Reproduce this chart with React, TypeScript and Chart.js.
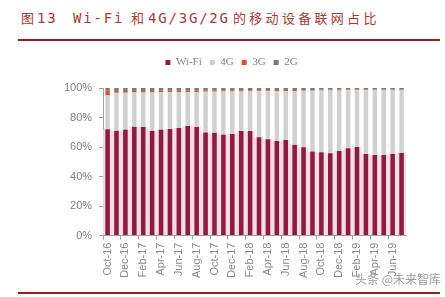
import React, { useEffect, useRef } from "react";
import { Chart, registerables } from "chart.js";

Chart.register(...registerables);

const months = [
  "Oct-16", "Nov-16", "Dec-16", "Jan-17", "Feb-17", "Mar-17", "Apr-17", "May-17", "Jun-17", "Jul-17",
  "Aug-17", "Sep-17", "Oct-17", "Nov-17", "Dec-17", "Jan-18", "Feb-18", "Mar-18", "Apr-18", "May-18",
  "Jun-18", "Jul-18", "Aug-18", "Sep-18", "Oct-18", "Nov-18", "Dec-18", "Jan-19", "Feb-19", "Mar-19",
  "Apr-19", "May-19", "Jun-19", "Jul-19",
];

const wifi = [
  72.0, 71.1, 71.8, 73.8, 73.6, 71.1, 71.8, 72.2, 72.9, 74.3,
  73.5, 69.9, 69.7, 68.4, 68.8, 70.9, 70.9, 66.6, 65.2, 64.1,
  64.8, 61.6, 59.9, 57.0, 56.5, 55.7, 57.3, 59.2, 60.0, 55.3,
  54.6, 54.6, 55.4, 55.9,
];
const g4 = [
  23.0, 25.7, 25.0, 23.1, 23.3, 25.9, 25.3, 24.9, 24.4, 23.0,
  23.8, 27.6, 27.8, 29.2, 28.8, 26.8, 26.9, 31.2, 32.6, 33.9,
  33.2, 36.4, 38.2, 41.2, 41.8, 42.6, 41.0, 39.2, 38.4, 43.2,
  44.0, 44.0, 43.2, 42.7,
];
const g3 = [
  3.5, 1.2, 1.2, 1.1, 1.1, 1.0, 1.0, 1.0, 0.9, 0.9,
  0.9, 0.8, 0.8, 0.8, 0.8, 0.7, 0.7, 0.7, 0.7, 0.6,
  0.6, 0.6, 0.6, 0.5, 0.5, 0.5, 0.5, 0.5, 0.5, 0.4,
  0.4, 0.4, 0.4, 0.4,
];
const g2 = [
  1.5, 2.0, 2.0, 2.0, 2.0, 2.0, 1.9, 1.9, 1.8, 1.8,
  1.8, 1.7, 1.7, 1.6, 1.6, 1.6, 1.5, 1.5, 1.5, 1.4,
  1.4, 1.4, 1.3, 1.3, 1.2, 1.2, 1.2, 1.1, 1.1, 1.1,
  1.0, 1.0, 1.0, 1.0,
];
const yTicks = [0, 10, 20, 30, 40, 50, 60, 70, 80, 90, 100];

// title pieces: [text, left x, kind]
const titleParts: [string, number, "cjk" | "lat"][] = [
  ["图", 21, "cjk"],
  ["13", 37, "lat"],
  ["Wi-Fi", 73, "lat"],
  ["和", 131, "cjk"],
  ["4G/3G/2G", 148, "lat"],
  ["的移动设备联网占比", 233, "cjk"],
];

const legendSpacer = {
  id: "legendSpacer",
  beforeInit(chart: any) {
    const legend = chart.legend;
    if (!legend) return;
    const origFit = legend.fit;
    legend.fit = function () {
      origFit.call(this);
      this.height += 10;
    };
  },
};

export default function App() {
  const ref = useRef<HTMLCanvasElement | null>(null);

  useEffect(() => {
    if (!ref.current) return;
    const chart = new Chart(ref.current, {
      type: "bar",
      plugins: [legendSpacer],
      data: {
        labels: months,
        datasets: [
          {
            label: "Wi-Fi",
            data: wifi,
            backgroundColor: "#8a1d42",
            borderColor: "#fadbe5",
            borderWidth: { left: 2.5, right: 2.5, top: 0, bottom: 0 },
            borderSkipped: false,
            barPercentage: 1,
            categoryPercentage: 1,
          },
          { label: "4G", data: g4, backgroundColor: "#d0d0d0", barPercentage: 0.5, categoryPercentage: 1 },
          { label: "3G", data: g3, backgroundColor: "#d0582e", barPercentage: 0.5, categoryPercentage: 1 },
          { label: "2G", data: g2, backgroundColor: "#7a7a7a", barPercentage: 0.5, categoryPercentage: 1 },
        ],
      },
      options: {
        responsive: false,
        animation: false,
        layout: { padding: { left: 57, right: 39, top: 4, bottom: 9 } },
        plugins: {
          tooltip: { enabled: false },
          legend: {
            position: "top",
            align: "center",
            labels: {
              boxWidth: 5,
              boxHeight: 5,
              padding: 8,
              color: "#808080",
              font: { family: "'Liberation Serif', serif", size: 11 },
              generateLabels: (c: any) =>
                c.data.datasets.map((ds: any, i: number) => ({
                  text: ds.label,
                  fillStyle: ds.backgroundColor,
                  strokeStyle: ds.backgroundColor,
                  lineWidth: 0,
                  hidden: false,
                  datasetIndex: i,
                  fontColor: "#808080",
                })),
            },
          },
        },
        scales: {
          x: {
            stacked: true,
            grid: {
              display: true,
              drawOnChartArea: false,
              offset: true,
              tickLength: 4,
              color: (ctx: any) => (ctx.index % 2 === 0 ? "#a0a0a0" : "rgba(0,0,0,0)"),
            },
            border: { display: true, color: "#a0a0a0" },
            ticks: {
              autoSkip: false,
              minRotation: 90,
              maxRotation: 90,
              padding: 3,
              color: "#8a8a8a",
              font: { family: "'Liberation Sans', Arial, sans-serif", size: 11 },
              callback: (_v: any, i: number) => (i % 2 === 0 ? months[i] : ""),
            },
          },
          y: {
            stacked: true,
            min: 0,
            max: 100,
            afterBuildTicks: (axis: any) => {
              axis.ticks = yTicks.map((v) => ({ value: v }));
            },
            grid: { display: true, drawOnChartArea: false, tickLength: 4, color: "#a0a0a0" },
            border: { display: true, color: "#a0a0a0" },
            ticks: {
              padding: 7,
              color: "#7f7f7f",
              font: { family: "'Liberation Sans', Arial, sans-serif", size: 11 },
              callback: (v: any) => v + "%",
            },
          },
        },
      },
    });
    return () => chart.destroy();
  }, []);

  return (
    <div style={{ position: "fixed", left: 0, top: 0, width: 445, height: 297, background: "#fff", overflow: "hidden" }}>
      {titleParts.map(([t, x, kind], i) => (
        <div
          key={i}
          style={{
            position: "absolute",
            left: x,
            top: 9,
            fontSize: kind === "cjk" ? 13 : 14,
            lineHeight: "18px",
            letterSpacing: kind === "cjk" ? "3.3px" : "1.8px",
            whiteSpace: "pre",
            color: "#a63a3a",
            fontFamily:
              kind === "cjk"
                ? "'Noto Sans CJK SC', sans-serif"
                : "'DejaVu Sans Mono', 'Liberation Mono', monospace",
          }}
        >
          {t}
        </div>
      ))}
      <div style={{ position: "absolute", left: 18, top: 39, width: 422, height: 2, background: "#8e1f22" }} />
      <canvas ref={ref} width={445} height={245} style={{ position: "absolute", left: 0, top: 45, width: 445, height: 245 }} />
      <div
        style={{
          position: "absolute",
          left: 355,
          top: 270,
          fontSize: 12,
          color: "#9a9a9a",
          fontFamily: "'Noto Sans CJK SC', sans-serif",
          whiteSpace: "pre",
        }}
      >
        头条 @未来智库
      </div>
      <div style={{ position: "absolute", left: 18, top: 292, width: 422, height: 2, background: "#8e1f22" }} />
    </div>
  );
}
